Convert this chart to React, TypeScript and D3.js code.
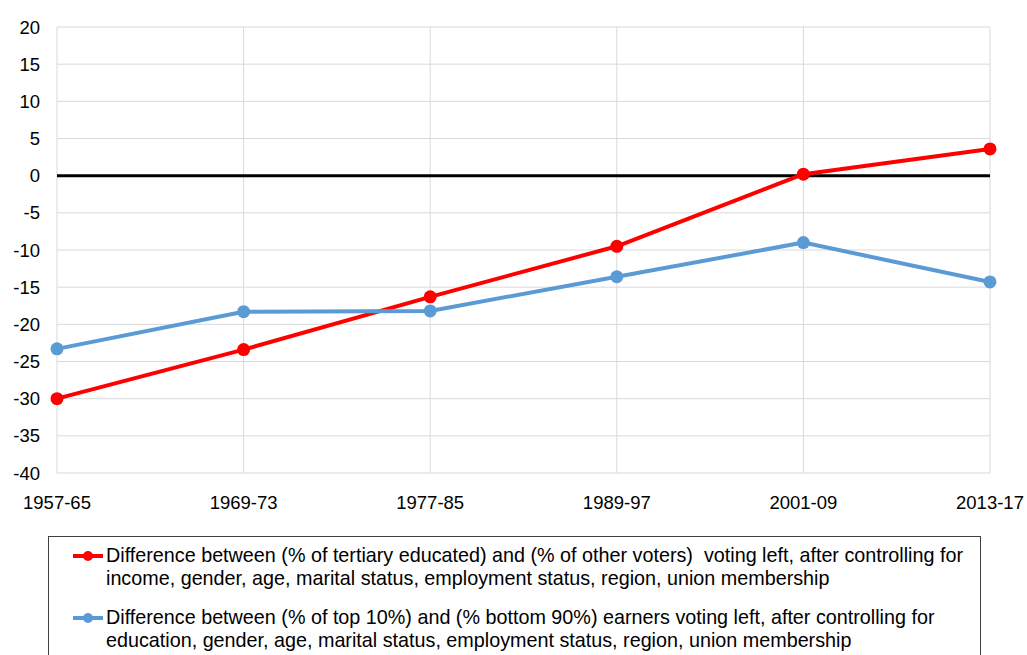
import React from "react";
import * as d3 from "d3";

const categories = ["1957-65", "1969-73", "1977-85", "1989-97", "2001-09", "2013-17"];
const educationGap = [-30.0, -23.4, -16.3, -9.5, 0.2, 3.6];
const incomeGap = [-23.3, -18.3, -18.2, -13.6, -9.0, -14.3];
const yTicks = [20, 15, 10, 5, 0, -5, -10, -15, -20, -25, -30, -35, -40];
const legendLabels = [
  [
    "Difference between (% of tertiary educated) and (% of other voters)  voting left, after controlling for",
    "income, gender, age, marital status, employment status, region, union membership",
  ],
  [
    "Difference between (% of top 10%) and (% bottom 90%) earners voting left, after controlling for",
    "education, gender, age, marital status, employment status, region, union membership",
  ],
];
const colors = ["#ff0000", "#5b9bd5"];

export default function App() {
  const W = 1027, H = 655;
  const left = 57, right = 990, top = 27, bottom = 473;
  const x = d3.scalePoint<string>().domain(categories).range([left, right]);
  const y = d3.scaleLinear().domain([-40, 20]).range([bottom, top]);
  const line = d3
    .line<number>()
    .x((_, i) => x(categories[i]) as number)
    .y((d) => y(d));
  const series = [educationGap, incomeGap];
  const font = "'Liberation Sans', Arial, sans-serif";
  return (
    <svg
      width={W}
      height={H}
      style={{ position: "absolute", left: 0, top: 0, background: "#fff" }}
      fontFamily={font}
    >
      {yTicks.map((t) => (
        <line key={"h" + t} x1={left} x2={right} y1={y(t)} y2={y(t)} stroke="#d9d9d9" strokeWidth={1} />
      ))}
      {categories.map((c) => (
        <line key={"v" + c} x1={x(c)} x2={x(c)} y1={top} y2={bottom} stroke="#d9d9d9" strokeWidth={1} />
      ))}
      <line x1={left} x2={right} y1={y(0)} y2={y(0)} stroke="#000" strokeWidth={3} />
      {yTicks.map((t) => (
        <text key={"yt" + t} x={40} y={y(t)} textAnchor="end" dominantBaseline="central" fontSize={18.5} fill="#000">
          {t}
        </text>
      ))}
      {categories.map((c) => (
        <text key={"xt" + c} x={x(c)} y={509} textAnchor="middle" fontSize={18.5} fill="#000">
          {c}
        </text>
      ))}
      {series.map((s, si) => (
        <g key={"s" + si}>
          <path d={line(s) || ""} fill="none" stroke={colors[si]} strokeWidth={4} strokeLinejoin="round" />
          {s.map((v, i) => (
            <circle key={i} cx={x(categories[i])} cy={y(v)} r={6.5} fill={colors[si]} />
          ))}
        </g>
      ))}
      <rect x={48.5} y={536.5} width={932} height={130} fill="#fff" stroke="#404040" strokeWidth={1} />
      {legendLabels.map((lines, li) => {
        const base = 562 + li * 62;
        return (
          <g key={"lg" + li}>
            <line x1={73} x2={103} y1={base - 6} y2={base - 6} stroke={colors[li]} strokeWidth={4} />
            <circle cx={88} cy={base - 6} r={5} fill={colors[li]} />
            {lines.map((t, k) => (
              <text key={k} x={106} y={base + k * 23} fontSize={19.75} fill="#000" style={{ whiteSpace: "pre" }}>
                {t}
              </text>
            ))}
          </g>
        );
      })}
    </svg>
  );
}
